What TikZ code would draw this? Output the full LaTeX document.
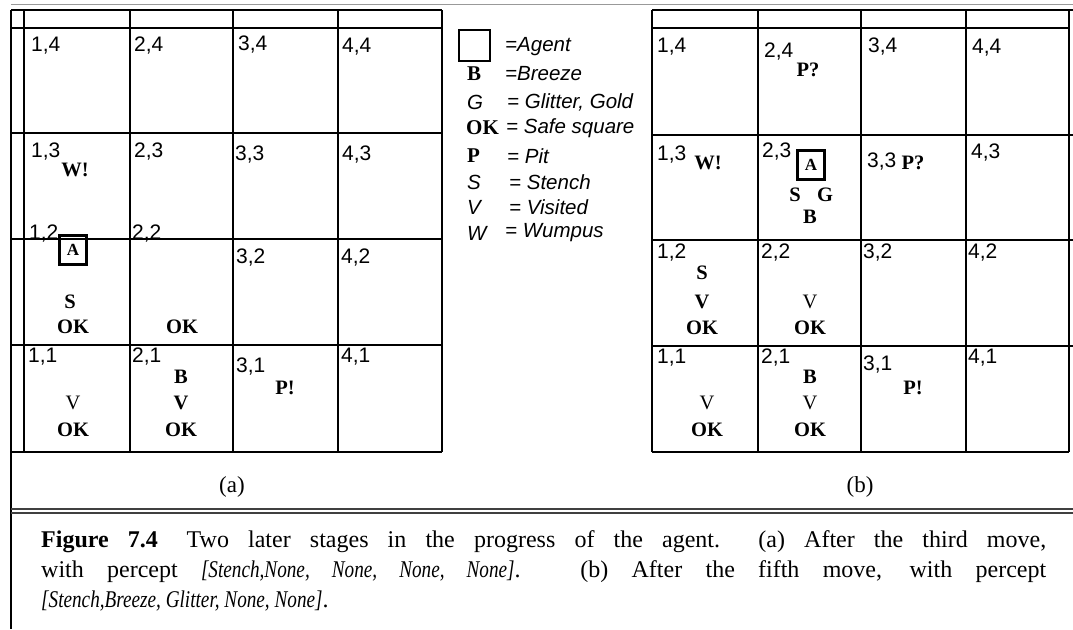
\documentclass[tikz,border=0pt]{standalone}
\usepackage{fontspec}
\setmainfont{Liberation Serif}
\setsansfont{Liberation Sans}
\usepackage{tikz}
\tikzset{
  gridline/.style = {line width=1.5pt},
  gridedge/.style = {line width=2.8pt},
  rulepair/.style = {line width=1.6pt, black!75},
  cellno/.style   = {anchor=west, inner sep=0pt, font=\sffamily\fontsize{21}{21}\selectfont},
  percept/.style  = {inner sep=0pt, font=\bfseries\fontsize{20.5}{20.5}\selectfont},
  thinv/.style    = {inner sep=0pt, font=\fontsize{20.5}{20.5}\selectfont},
  agentbox/.style = {draw, line width=2.4pt, inner sep=0pt, minimum width=27pt,
                     minimum height=29pt, font=\bfseries\fontsize{17}{17}\selectfont},
  legsym/.style   = {anchor=west, inner sep=0pt, font=\bfseries\fontsize{21}{21}\selectfont},
  legtext/.style  = {anchor=west, inner sep=0pt, font=\sffamily\itshape\fontsize{20.5}{20.5}\selectfont},
  sublabel/.style = {inner sep=0pt, font=\fontsize{23}{23}\selectfont},
}
\newcommand{\percepttext}[1]{{\itshape\addfontfeature{FakeStretch=0.8}#1}}

\begin{document}
\begin{tikzpicture}[x=1pt,y=-1pt]
\useasboundingbox (0,0) rectangle (1073,629);
% frame
\draw[black!40, line width=0.8pt] (11,4) -- (1073,4);
\draw[gridline] (11,10) -- (11,629);
\draw[rulepair] (11,509) -- (1073,509) (11,513) -- (1073,513);
% grid (a)
\draw[gridline] (11,10) -- (442,10);
\draw[gridline] (130,10) -- (130,452) (233,10) -- (233,452) (338,10) -- (338,452);
\draw[gridline] (11,133) -- (442,133) (11,239) -- (442,239) (11,345) -- (442,345);
\draw[gridedge] (11,28) -- (442,28) (24,10) -- (24,452) (442,10) -- (442,452) (11,452) -- (442,452);
% grid (b)
\draw[gridline] (652,10) -- (1073,10);
\draw[gridline] (758,10) -- (758,452) (861,10) -- (861,452) (966,10) -- (966,452);
\draw[gridline] (652,135) -- (1073,135) (652,240) -- (1073,240) (652,346) -- (1073,346);
\draw[gridedge] (652,28) -- (1069,28) (652,10) -- (652,452) (1069,10) -- (1069,452) (652,452) -- (1069,452);

% squares of (a)
\node[cellno] (a14) at (31,46) {1,4};  \node[cellno] (a24) at (134,46) {2,4};
\node[cellno] (a34) at (238,45) {3,4}; \node[cellno] (a44) at (342,47) {4,4};
\node[cellno] (a13) at (31,152) {1,3}; \node[cellno] (a23) at (134,152) {2,3};
\node[cellno] (a33) at (235,155) {3,3}; \node[cellno] (a43) at (342,155) {4,3};
\node[cellno] (a12) at (29,234) {1,2}; \node[cellno] (a22) at (132,234) {2,2};
\node[cellno] (a32) at (236,258) {3,2}; \node[cellno] (a42) at (341,258) {4,2};
\node[cellno] (a11) at (28,357) {1,1}; \node[cellno] (a21) at (132,357) {2,1};
\node[cellno] (a31) at (236,367) {3,1}; \node[cellno] (a41) at (341,357) {4,1};
\node[percept] (a13w) at (75,170) {W!};
\node[agentbox] (a12a) at (73,250) {A};
\node[percept] (a12s) at (70,302) {S};   \node[percept] (a12ok) at (73,327) {OK};
\node[percept] (a22ok) at (182,327) {OK};
\node[thinv] (a11v) at (73,403) {V};     \node[percept] (a11ok) at (73,430) {OK};
\node[percept] (a21b) at (181,377) {B};  \node[percept] (a21v) at (181,403) {V};
\node[percept] (a21ok) at (181,430) {OK};
\node[percept] (a31p) at (285,388) {P!};

% legend
\node[draw, line width=2.4pt, minimum size=31pt, inner sep=0pt] (legagent) at (474.5,45.5) {};
\node[legtext] (ltagent) at (505,47) {=Agent};
\node[legsym] (lsb) at (467,74) {B};
\node[legtext] (ltb) at (505,74) {=Breeze};
\node[legtext] (lsg) at (467,102) {G};
\node[legtext] (ltg) at (507,102) {= Glitter, Gold};
\node[legsym] (lsok) at (466,128) {OK};
\node[legtext] (ltok) at (506,128) {= Safe square};
\node[legsym] (lsp) at (467,156) {P};
\node[legtext] (ltp) at (507,156) {= Pit};
\node[legtext] (lss) at (467,182) {S};
\node[legtext] (lts) at (509,182) {= Stench};
\node[legtext] (lsv) at (467,207) {V};
\node[legtext] (ltv) at (509,207) {= Visited};
\node[legtext] (lsw) at (467,233) {W};
\node[legtext] (ltw) at (505,233) {= Wumpus};

% squares of (b)
\node[cellno] (b14) at (657,47) {1,4};  \node[cellno] (b24) at (764,52) {2,4};
\node[cellno] (b34) at (868,47) {3,4};  \node[cellno] (b44) at (972,48) {4,4};
\node[cellno] (b13) at (657,155) {1,3}; \node[cellno] (b23) at (762,152) {2,3};
\node[cellno] (b33) at (867,162) {3,3}; \node[cellno] (b43) at (971,153) {4,3};
\node[cellno] (b12) at (657,253) {1,2}; \node[cellno] (b22) at (761,253) {2,2};
\node[cellno] (b32) at (863,253) {3,2}; \node[cellno] (b42) at (968,253) {4,2};
\node[cellno] (b11) at (657,358) {1,1}; \node[cellno] (b21) at (761,358) {2,1};
\node[cellno] (b31) at (863,365) {3,1}; \node[cellno] (b41) at (968,358) {4,1};
\node[percept] (b24p) at (808,70) {P?};
\node[percept] (b13w) at (708,163) {W!};
\node[agentbox] (b23a) at (811,165) {A};
\node[percept] (b23s) at (795,195) {S};  \node[percept] (b23g) at (825,195) {G};
\node[percept] (b23b) at (810,217) {B};
\node[percept] (b33p) at (913,163) {P?};
\node[percept] (b12s) at (702,273) {S};  \node[percept] (b12v) at (702,302) {V};
\node[percept] (b12ok) at (702,328) {OK};
\node[thinv] (b22v) at (810,302) {V};    \node[percept] (b22ok) at (810,328) {OK};
\node[thinv] (b11v) at (707,403) {V};    \node[percept] (b11ok) at (707,430) {OK};
\node[percept] (b21b) at (810,377) {B};  \node[thinv] (b21v) at (810,403) {V};
\node[percept] (b21ok) at (810,430) {OK};
\node[percept] (b31p) at (913,388) {P!};

% sub-figure labels and caption
\node[sublabel] (suba) at (232,487) {(a)};
\node[sublabel] (subb) at (860,487) {(b)};
\node[anchor=north west, inner sep=0pt, text width=1005pt, align=justify,
      font=\fontsize{24}{30}\selectfont] (caption) at (41,530)
  {\textbf{Figure 7.4}\hspace{1.2em}Two later stages in the progress of the agent.\ \ (a) After the third move,\linebreak
   with percept \percepttext{[Stench,None, None, None, None]}. (b) After the fifth move, with percept\linebreak
   \percepttext{[Stench,Breeze, Glitter, None, None]}.};
\end{tikzpicture}
\end{document}
